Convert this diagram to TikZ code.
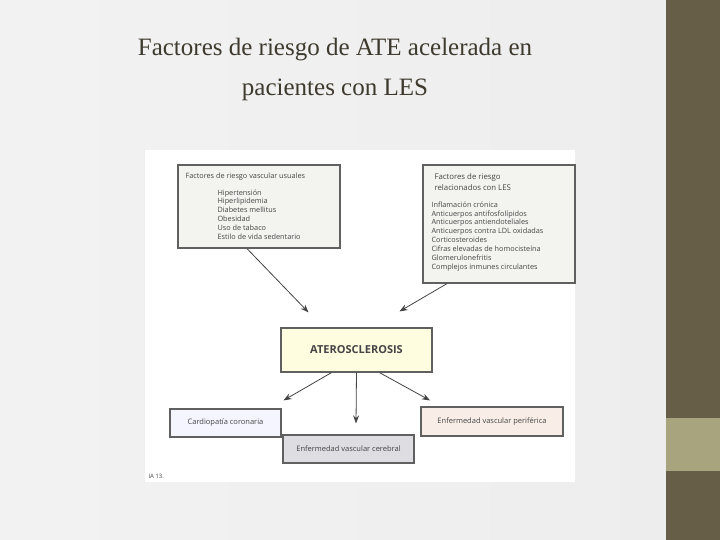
\documentclass[tikz,border=0pt]{standalone}
\usepackage{fontspec}
\usetikzlibrary{arrows.meta,calc}
\setmainfont{Liberation Serif}
\newfontfamily\bodyf{Open Sans}
\definecolor{band}{HTML}{675E48}
\definecolor{bandl}{HTML}{A8A57E}
\definecolor{ttl}{HTML}{3E3A2E}
\definecolor{ink}{HTML}{444444}
\begin{document}
\begin{tikzpicture}[x=1pt,y=-1pt,
  bx/.style={draw=ink!85,line width=1.2pt,inner sep=0pt},
  txt/.style={font=\bodyf\fontsize{7.3}{9}\selectfont,text=ink,align=left,anchor=north west},
  arr/.style={draw=ink,line width=0.8pt,-{Stealth[length=8pt,width=6pt]}}]
\useasboundingbox (0,0) rectangle (720,540);
\shade[left color=gray!10,right color=gray!14] (0,0) rectangle (666,540);
\fill[band] (666,0) rectangle (720,540);
\fill[bandl] (666,418) rectangle (720,471);
\node[font=\fontsize{25}{40}\selectfont,text=ttl,align=center] (title) at (335,69) {Factores de riesgo de ATE acelerada en\\pacientes con LES};
\fill[white] (145,150) rectangle (575,482);
% boxes
\node[bx,fill=yellow!8!gray!12,minimum width=162pt,minimum height=83pt] (usual) at (259,206.5) {};
\node[txt] at (182,169) {Factores de riesgo vascular usuales};
\node[txt,font=\bodyf\fontsize{7.3}{8.8}\selectfont] at (214,186) {Hipertensión\\Hiperlipidemia\\Diabetes mellitus\\Obesidad\\Uso de tabaco\\Estilo de vida sedentario};
\node[bx,fill=yellow!8!gray!12,minimum width=152pt,minimum height=118pt] (les) at (499,224) {};
\node[txt,font=\bodyf\fontsize{7.8}{11}\selectfont] at (431,170) {Factores de riesgo\\relacionados con LES};
\node[txt,font=\bodyf\fontsize{7.3}{8.9}\selectfont] at (428,198) {Inflamación crónica\\Anticuerpos antifosfolípidos\\Anticuerpos antiendoteliales\\Anticuerpos contra LDL oxidadas\\Corticosteroides\\Cifras elevadas de homocisteína\\Glomerulonefritis\\Complejos inmunes circulantes};
\node[bx,fill=yellow!12,minimum width=151pt,minimum height=44pt,font=\bodyf\bfseries\fontsize{11}{12}\selectfont,text=ink] (ate) at (356.5,350) {ATEROSCLEROSIS};
\node[bx,fill=blue!4,minimum width=111pt,minimum height=28pt,font=\bodyf\fontsize{7.5}{8}\selectfont,text=ink] (card) at (225.5,423) {Cardiopatía coronaria};
\node[bx,fill=blue!8!gray!25,minimum width=131pt,minimum height=28pt,font=\bodyf\fontsize{7.5}{8}\selectfont,text=ink] (cere) at (348.5,449) {Enfermedad vascular cerebral};
\node[bx,fill=red!8!brown!12,minimum width=142pt,minimum height=29pt,font=\bodyf\fontsize{7.5}{8}\selectfont,text=ink] (peri) at (492,421.5) {Enfermedad vascular periférica};
\node[font=\bodyf\fontsize{6}{7}\selectfont,text=ink,anchor=west] (fig) at (145,476) {IA 13.};
% arrows
\draw[arr] ($(usual.south)+(-12,0)$) -- ($(ate.north)+(-48,-15)$);
\draw[arr] ($(les.south)+(-52,0)$) -- ($(ate.north)+(43,-16)$);
\draw[arr] ($(ate.south)+(-25,0)$) -- ($(card.north)+(58,-8)$);
\draw[arr] (ate.south) -- ($(cere.north)+(7.5,-11)$);
\draw[arr] ($(ate.south)+(23,0)$) -- ($(peri.north)+(-62,-6)$);
\end{tikzpicture}
\end{document}
